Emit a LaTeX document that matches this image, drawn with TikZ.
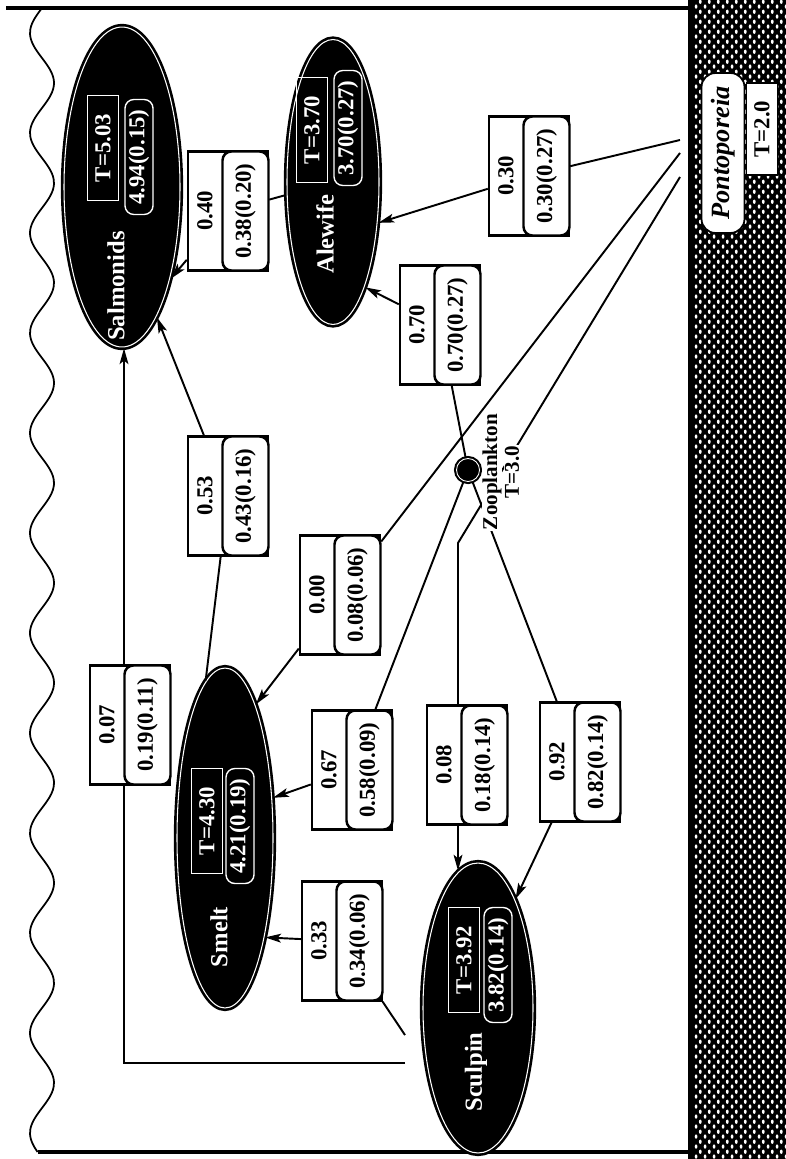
\documentclass[tikz,border=0pt]{standalone}
\usepackage{fontspec}
\setmainfont{Liberation Serif}
\usetikzlibrary{shapes.geometric, arrows.meta, calc, patterns}

% white dots on the black sediment band
\pgfdeclarepatternformonly{benthos}{\pgfqpoint{0pt}{0pt}}{\pgfqpoint{5.2pt}{5.6pt}}{\pgfqpoint{5.2pt}{5.6pt}}{%
  \pgfpathellipse{\pgfqpoint{1.3pt}{1.4pt}}{\pgfqpoint{0.85pt}{0pt}}{\pgfqpoint{0pt}{1.25pt}}%
  \pgfpathellipse{\pgfqpoint{3.9pt}{4.2pt}}{\pgfqpoint{0.85pt}{0pt}}{\pgfqpoint{0pt}{1.25pt}}%
  \pgfusepath{fill}}

\begin{document}
\begin{tikzpicture}[x=0.02cm, y=-0.02cm,
    % Define the styles for the species
    species/.style={ellipse, draw=black, line width=1.5pt, double=white,
        double distance=0.6pt, fill=black, inner sep=0pt},
    sname/.style={rotate=90, text=white, inner sep=0pt,
        font=\fontsize{14}{16}\selectfont\bfseries},
    tbox/.style={rotate=90, draw=white, line width=0.8pt, text=white, inner sep=0pt,
        minimum width=2.1cm, minimum height=0.62cm,
        font=\fontsize{13}{15}\selectfont\bfseries},
    tval/.style={tbox, rounded corners=5pt, minimum width=2.3cm, minimum height=0.56cm},
    % Define the styles for the flow boxes
    flowbox/.style={draw, line width=1.4pt, fill=white, minimum width=1.6cm,
        minimum height=2.38cm, inner sep=0pt},
    flowtop/.style={rotate=90, inner sep=0pt, font=\fontsize{13}{15}\selectfont\bfseries},
    flowval/.style={rotate=90, draw, line width=1.4pt, fill=white, rounded corners=5pt,
        minimum width=2.38cm, minimum height=0.92cm, inner sep=0pt,
        font=\fontsize{13}{15}\selectfont\bfseries},
    flow/.style={line width=1.1pt},
    feeds/.style={flow, -{Stealth[length=9pt, width=5pt, inset=2pt]}}
]
\useasboundingbox (0,0) rectangle (786,1159);

% Lake: surface, bottom and sediment
\fill[black] (688,0) rectangle (786,1159);
\fill[pattern=benthos, pattern color=white] (693,0) rectangle (786,1159);
\draw[line width=2.5pt] (6,8) -- (688,8);
\draw[line width=2.5pt] (38,1152) -- (688,1152);
\draw[line width=1pt] plot[domain=8:1152, samples=260, smooth] ({42-12*sin(3.6*(\x-8))}, \x);

% Pontoporeia and zooplankton
\node[rotate=90, draw, line width=1pt, fill=white, rounded corners=8pt, minimum width=3.2cm,
    minimum height=0.86cm, inner sep=0pt, font=\fontsize{15}{17}\selectfont\bfseries\itshape]
    (pont) at (723,153) {Pontoporeia};
\node[rotate=90, draw, line width=1pt, fill=white, minimum width=1.84cm, minimum height=0.62cm,
    inner sep=0pt, font=\fontsize{13}{15}\selectfont\bfseries] (pontT) at (762,129) {T=2.0};
\node[circle, draw=black, line width=1.2pt, double=white, double distance=0.5pt, fill=black,
    minimum size=0.46cm, inner sep=0pt] (zoop) at (468,470) {};

% Fish
\node[species, minimum width=2.32cm, minimum height=6.4cm] (salm) at (122,187) {};
\node[sname] (salmname) at (116,286) {Salmonids};
\node[tbox] (salmT) at (103,148) {T=5.03};
\node[tval] (salmval) at (139,157) {4.94(0.15)};

\node[species, minimum width=1.84cm, minimum height=5.7cm] (alew) at (333,182) {};
\node[sname] (alewname) at (325,234) {Alewife};
\node[tbox] (alewT) at (312,130) {T=3.70};
\node[tval] (alewval) at (348,128) {3.70(0.27)};

\node[species, minimum width=1.92cm, minimum height=6.8cm] (smelt) at (225,838) {};
\node[sname] (smeltname) at (219,937) {Smelt};
\node[tbox] (smeltT) at (207,821) {T=4.30};
\node[tval] (smeltval) at (240,826) {4.21(0.19)};

\node[species, minimum width=2.2cm, minimum height=5.8cm] (scul) at (478,1008) {};
\node[sname] (sculname) at (476,1072) {Sculpin};
\node[tbox] (sculT) at (464,960) {T=3.92};
\node[tval] (sculval) at (498,965) {3.82(0.14)};

% Diet fractions
\foreach \nm/\x/\y/\diet/\est in {
    bA/228/211/0.40/0.38(0.20), bB/529/176/0.30/0.30(0.27),
    bC/440/325/0.70/0.70(0.27), bD/228/496/0.53/0.43(0.16),
    bE/340/595/0.00/0.08(0.06), bF/352/770/0.67/0.58(0.09),
    bG/467/765/0.08/0.18(0.14), bH/580/762/0.92/0.82(0.14),
    bI/342/941/0.33/0.34(0.06), bJ/130/725/0.07/0.19(0.11)}
{
    \node[flowbox] (\nm) at (\x,\y) {};
    \node[flowtop] (\nm top) at ($(\nm)+(-23,0)$) {\diet};
    \node[flowval] (\nm val) at ($(\nm)+(17.5,0)$) {\est};
}

% Loose ends of the flows
\coordinate (p1) at (680,140);
\coordinate (p2) at (680,153);
\coordinate (p3) at (680,177);
\coordinate (cG) at (458,543);
\coordinate (s1) at (405,1035);
\coordinate (s2) at (405,1063);
\coordinate (cJ) at (124,1063);

% Draw the flows
\draw[feeds] (alew) -- (bA) -- (salm.-62);
\draw[feeds] (p1) -- (bB) -- (alew.-42);
\draw[feeds] (zoop) -- (bC) -- (alew.-73);
\draw[feeds] (smelt.97) -- (bD) -- (salm.-75);
\draw[feeds] (p2) -- (bE) -- (smelt.77);
\draw[feeds] (zoop) -- (bF) -- (smelt.40);
\draw[flow] (p3) -- (cG) -- (cG |- bG.north);
\draw[feeds] (cG |- bG.south) -- (cG |- scul.98);
\draw[feeds] (zoop) -- (bH) -- (scul.71);
\draw[feeds] (s1) -- (bI) -- (smelt.-68);
\draw[flow] (s2) -- (cJ) -- (cJ |- bJ.south);
\draw[feeds] (cJ |- bJ.north) -- (cJ |- salm.south);

% Zooplankton label
\node[rotate=90, fill=white, inner sep=0.5pt, font=\fontsize{12}{14}\selectfont\bfseries]
    (zoopname) at (492,472) {Zooplankton};
\node[rotate=90, fill=white, inner sep=0.5pt, font=\fontsize{12}{14}\selectfont\bfseries]
    (zoopT) at (512,472) {T=3.0};

\end{tikzpicture}
\end{document}
